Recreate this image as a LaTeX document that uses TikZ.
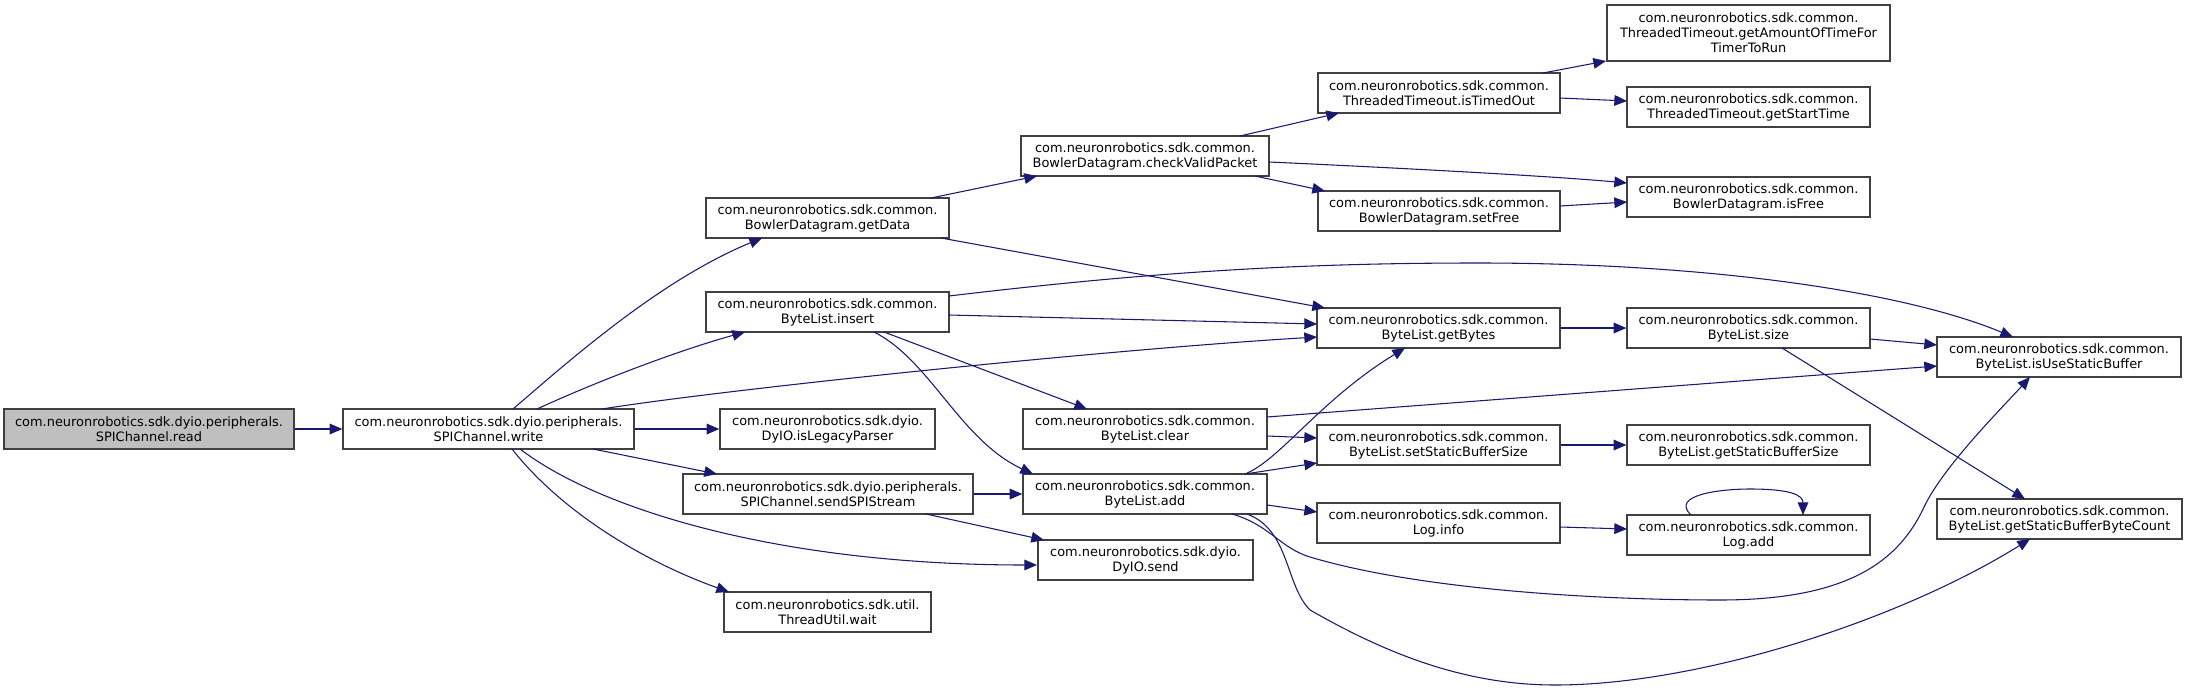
\documentclass[tikz,border=0pt]{standalone}
\usepackage{fontspec}
\setmainfont{DejaVu Sans}
\usetikzlibrary{calc,arrows.meta}
\definecolor{edgec}{HTML}{191970}
\definecolor{boxc}{HTML}{404040}
\definecolor{rootfill}{HTML}{BFBFBF}
\tikzset{
  box/.style={draw=boxc, line width=1pt, fill=white, inner sep=0pt, align=center,
    font=\fontsize{9.7}{11.25}\selectfont},
  wh/.style 2 args={minimum width=#1*0.75pt, minimum height=#2*0.75pt},
  edge/.style={draw=edgec, line width=0.8pt, -{Triangle[length=9.5pt,width=8pt]}},
}
\begin{document}
\begin{tikzpicture}[x=0.75pt,y=-0.75pt]
\useasboundingbox (0,0) rectangle (2187,692);
% column 1-2
\node[box, wh={290}{40}, fill=rootfill] (read) at (149,429) {com.neuronrobotics.sdk.dyio.peripherals.\\SPIChannel.read};
\node[box, wh={291}{40}] (write) at (488.5,429) {com.neuronrobotics.sdk.dyio.peripherals.\\SPIChannel.write};
% column 3
\node[box, wh={243}{40}] (getData) at (827.5,218) {com.neuronrobotics.sdk.common.\\BowlerDatagram.getData};
\node[box, wh={243}{40}] (insert) at (827.5,312) {com.neuronrobotics.sdk.common.\\ByteList.insert};
\node[box, wh={215}{40}] (legacy) at (827.5,429) {com.neuronrobotics.sdk.dyio.\\DyIO.isLegacyParser};
\node[box, wh={290}{40}] (sendspi) at (828,494) {com.neuronrobotics.sdk.dyio.peripherals.\\SPIChannel.sendSPIStream};
\node[box, wh={207}{40}] (wait) at (827.5,612) {com.neuronrobotics.sdk.util.\\ThreadUtil.wait};
% column 4
\node[box, wh={248}{40}] (check) at (1145,156) {com.neuronrobotics.sdk.common.\\BowlerDatagram.checkValidPacket};
\node[box, wh={244}{40}] (clear) at (1145,429) {com.neuronrobotics.sdk.common.\\ByteList.clear};
\node[box, wh={244}{40}] (add) at (1145,494) {com.neuronrobotics.sdk.common.\\ByteList.add};
\node[box, wh={215}{40}] (send) at (1145.5,560) {com.neuronrobotics.sdk.dyio.\\DyIO.send};
% column 5
\node[box, wh={242}{40}] (timedout) at (1439,93) {com.neuronrobotics.sdk.common.\\ThreadedTimeout.isTimedOut};
\node[box, wh={242}{40}] (setfree) at (1439,211) {com.neuronrobotics.sdk.common.\\BowlerDatagram.setFree};
\node[box, wh={243}{40}] (getbytes) at (1438.5,328) {com.neuronrobotics.sdk.common.\\ByteList.getBytes};
\node[box, wh={243}{40}] (setsbs) at (1438.5,445) {com.neuronrobotics.sdk.common.\\ByteList.setStaticBufferSize};
\node[box, wh={243}{40}] (loginfo) at (1438.5,523) {com.neuronrobotics.sdk.common.\\Log.info};
% column 6
\node[box, wh={283}{56}] (amount) at (1748.5,33) {com.neuronrobotics.sdk.common.\\ThreadedTimeout.getAmountOfTimeFor\\TimerToRun};
\node[box, wh={243}{40}] (start) at (1748.5,107) {com.neuronrobotics.sdk.common.\\ThreadedTimeout.getStartTime};
\node[box, wh={243}{40}] (isfree) at (1748.5,197) {com.neuronrobotics.sdk.common.\\BowlerDatagram.isFree};
\node[box, wh={243}{40}] (size) at (1748.5,328) {com.neuronrobotics.sdk.common.\\ByteList.size};
\node[box, wh={243}{40}] (getsbs) at (1748.5,445) {com.neuronrobotics.sdk.common.\\ByteList.getStaticBufferSize};
\node[box, wh={243}{40}] (logadd) at (1748.5,535) {com.neuronrobotics.sdk.common.\\Log.add};
% column 7
\node[box, wh={244}{40}] (isuse) at (2059,357) {com.neuronrobotics.sdk.common.\\ByteList.isUseStaticBuffer};
\node[box, wh={245}{40}] (sbbc) at (2059.5,519) {com.neuronrobotics.sdk.common.\\ByteList.getStaticBufferByteCount};

% edges
\draw[edge] (read.east) -- (write.west);
\draw[edge] ($(write)+(24.5,-20)$) .. controls (570,360) and (660,280) .. ($(getData)+(-65.5,20)$);
\draw[edge] ($(write)+(48.5,-20)$) .. controls (600,380) and (680,350) .. ($(insert)+(-82.5,20)$);
\draw[edge] ($(write)+(113.5,-20)$) .. controls (720,390) and (1100,350) .. ($(getbytes)+(-121.5,9)$);
\draw[edge] (write.east) -- (legacy.west);
\draw[edge] ($(write)+(104.5,20)$) -- ($(sendspi)+(-111,-20)$);
\draw[edge] ($(write)+(31.5,20)$) .. controls (600,510) and (780,565) .. ($(send)+(-108.5,5)$);
\draw[edge] ($(write)+(23.5,20)$) .. controls (560,510) and (640,560) .. ($(wait)+(-98.5,-20)$);

\draw[edge] ($(getData)+(103.5,-20)$) -- ($(check)+(-108,20)$);
\draw[edge] ($(getData)+(113.5,20)$) -- ($(getbytes)+(-113.5,-20)$);

\draw[edge] ($(check)+(95,-20)$) -- ($(timedout)+(-100,20)$);
\draw[edge] ($(check)+(124,6)$) .. controls (1400,168) and (1550,176) .. ($(isfree)+(-121.5,-14)$);
\draw[edge] ($(check)+(110,20)$) -- ($(setfree)+(-114,-20)$);

\draw[edge] ($(timedout)+(104,-20)$) -- ($(amount)+(-142.5,28)$);
\draw[edge] ($(timedout)+(121,5)$) -- ($(start)+(-121.5,-6)$);
\draw[edge] ($(setfree)+(121,-5)$) -- ($(isfree)+(-121.5,5)$);

\draw[edge] ($(insert)+(121.5,3)$) -- ($(getbytes)+(-121.5,-4)$);
\draw[edge] ($(insert)+(121.5,-16)$) .. controls (1150,272) and (1300,263) .. (1478,263)
   .. controls (1700,263) and (1900,290) .. ($(isuse)+(-46,-20)$);
\draw[edge] ($(insert)+(56.5,20)$) -- ($(clear)+(-58,-20)$);
\draw[edge] ($(insert)+(46.5,20)$) .. controls (930,360) and (960,440) .. ($(add)+(-112,-20)$);

\draw[edge] (getbytes.east) -- (size.west);
\draw[edge] ($(size)+(121.5,11)$) -- ($(isuse)+(-122,-12)$);
\draw[edge] ($(size)+(33.5,20)$) -- ($(sbbc)+(-34.5,-20)$);

\draw[edge] ($(clear)+(122,-12)$) -- ($(isuse)+(-122,9)$);
\draw[edge] ($(clear)+(122,7)$) -- ($(setsbs)+(-121.5,-7)$);

\draw[edge] ($(add)+(100,-20)$) .. controls (1280,460) and (1320,400) .. ($(getbytes)+(-33.5,20)$);
\draw[edge] ($(add)+(100,-20)$) -- ($(setsbs)+(-121.5,18)$);
\draw[edge] ($(add)+(122,11)$) -- ($(loginfo)+(-121.5,-11)$);
\draw[edge] ($(add)+(87,20)$) .. controls (1270,525) and (1280,548) .. (1310,557)
   .. controls (1420,590) and (1600,600) .. (1720,600)
   .. controls (1850,600) and (1900,560) .. (1925,505)
   .. controls (1945,465) and (2000,410) .. ($(isuse)+(-29,20)$);
\draw[edge] ($(add)+(102,20)$) .. controls (1290,530) and (1285,585) .. (1310,610)
   .. controls (1380,650) and (1460,685) .. (1555,685)
   .. controls (1700,685) and (1900,620) .. ($(sbbc)+(-29.5,20)$);

\draw[edge] (sendspi.east) -- (add.west);
\draw[edge] ($(sendspi)+(98,20)$) -- ($(send)+(-101.5,-20)$);
\draw[edge] (setsbs.east) -- (getsbs.west);
\draw[edge] ($(loginfo)+(121.5,4)$) -- ($(logadd)+(-121.5,-6)$);
\draw[edge] ($(logadd)+(-57.5,-20)$) .. controls (1670,495) and (1720,489) .. (1750,489)
   .. controls (1790,489) and (1803,495) .. ($(logadd)+(54.5,-20)$);
\end{tikzpicture}
\end{document}
